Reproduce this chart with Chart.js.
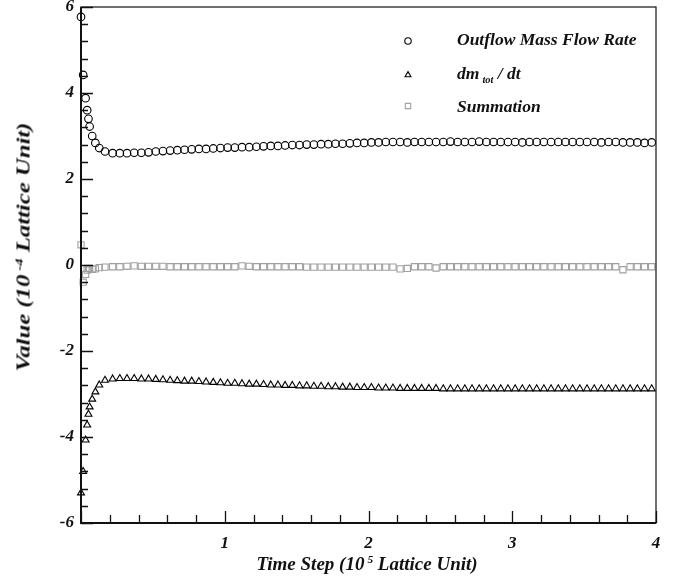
<!DOCTYPE html>
<html>
<head>
<meta charset="utf-8">
<script src="https://cdn.jsdelivr.net/npm/chart.js@4"></script>
<style>
  html, body { margin: 0; padding: 0; background: #fff; }
  #wrap { position: relative; width: 679px; height: 582px; overflow: hidden; }
  #c { position: absolute; left: 0; top: 0; }
  .t { position: absolute; white-space: nowrap; line-height: 1; color: #111;
       font-family: "Liberation Serif", "Times New Roman", serif; font-weight: bold; font-style: italic; }
  .t sup { font-size: 60%; vertical-align: 0.6em; margin-left: 3px; line-height: 0; }
  .t sub { font-size: 60%; vertical-align: -0.35em; margin-left: 3px; line-height: 0; }
</style>
</head>
<body>
<div id="wrap">
  <canvas id="c" width="679" height="582"></canvas>
  <div class="t" id="xt" style="font-size:19px; left:367px; top:563px; transform:translate(-50%,-50%);">Time Step (10<sup>5</sup> Lattice Unit)</div>
  <div class="t" id="yt" style="font-size:19px; left:23px; top:247px; transform:translate(-50%,-50%) rotate(-90deg) scaleX(1.3);">Value (10<sup>-4</sup> Lattice Unit)</div>
  <div class="t" style="font-size:17.5px; left:457px; top:40px; transform:translateY(-50%);">Outflow Mass Flow Rate</div>
  <div class="t" style="font-size:17.5px; left:457px; top:74px; transform:translateY(-50%);">dm<sub>tot</sub> / dt</div>
  <div class="t" style="font-size:17.5px; left:457px; top:107px; transform:translateY(-50%);">Summation</div>
</div>
<script>
// ---- data (time step in 1e5 lattice units, values in 1e-4 lattice units) ----
const timeSteps = [
  0, 0.015, 0.032, 0.043, 0.052, 0.06, 0.078, 0.1, 0.127, 0.167,
  0.22,0.27,0.32,0.37,0.42,0.47,0.52,0.57,0.62,0.67,
  0.72,0.77,0.82,0.87,0.92,0.97,1.02,1.07,1.12,1.17,
  1.22,1.27,1.32,1.37,1.42,1.47,1.52,1.57,1.62,1.67,
  1.72,1.77,1.82,1.87,1.92,1.97,2.02,2.07,2.12,2.17,
  2.22,2.27,2.32,2.37,2.42,2.47,2.52,2.57,2.62,2.67,
  2.72,2.77,2.82,2.87,2.92,2.97,3.02,3.07,3.12,3.17,
  3.22,3.27,3.32,3.37,3.42,3.47,3.52,3.57,3.62,3.67,
  3.72,3.77,3.82,3.87,3.92,3.97
];
const outflowRate = [
  5.77, 4.42, 3.88, 3.6, 3.4, 3.22, 3.0, 2.84, 2.72, 2.64,
  2.60,2.60,2.60,2.61,2.61,2.62,2.64,2.65,2.66,2.67,
  2.68,2.69,2.70,2.70,2.71,2.72,2.73,2.73,2.74,2.74,
  2.75,2.76,2.77,2.77,2.78,2.79,2.79,2.80,2.80,2.81,
  2.81,2.82,2.82,2.83,2.84,2.84,2.85,2.85,2.86,2.86,
  2.86,2.85,2.86,2.86,2.86,2.86,2.86,2.87,2.86,2.86,
  2.86,2.87,2.86,2.86,2.86,2.86,2.86,2.85,2.86,2.86,
  2.86,2.86,2.86,2.86,2.86,2.86,2.86,2.86,2.85,2.86,
  2.86,2.85,2.85,2.85,2.84,2.85
];
const dmTotDt = [
  -5.3, -4.8, -4.07, -3.72, -3.47, -3.3, -3.12, -2.95, -2.79, -2.68,
  -2.65,-2.64,-2.64,-2.64,-2.65,-2.65,-2.66,-2.67,-2.68,-2.69,
  -2.70,-2.70,-2.71,-2.72,-2.73,-2.74,-2.75,-2.75,-2.76,-2.77,
  -2.77,-2.78,-2.79,-2.79,-2.80,-2.80,-2.81,-2.81,-2.82,-2.82,
  -2.83,-2.83,-2.84,-2.84,-2.85,-2.85,-2.85,-2.86,-2.86,-2.86,
  -2.87,-2.87,-2.87,-2.87,-2.87,-2.87,-2.88,-2.88,-2.88,-2.88,
  -2.88,-2.88,-2.88,-2.88,-2.88,-2.88,-2.88,-2.88,-2.88,-2.88,
  -2.88,-2.88,-2.88,-2.88,-2.88,-2.88,-2.88,-2.88,-2.88,-2.88,
  -2.88,-2.88,-2.88,-2.88,-2.88,-2.88
];
const summation = [
  0.47, -0.4, -0.22, -0.12, -0.08, -0.09, -0.1, -0.09, -0.06, -0.05,
  -0.04,-0.04,-0.03,-0.02,-0.03,-0.03,-0.03,-0.03,-0.04,-0.04,
  -0.04,-0.04,-0.04,-0.04,-0.04,-0.04,-0.04,-0.04,-0.02,-0.03,
  -0.04,-0.04,-0.04,-0.04,-0.04,-0.04,-0.04,-0.05,-0.05,-0.05,
  -0.05,-0.05,-0.05,-0.05,-0.05,-0.05,-0.05,-0.05,-0.05,-0.05,
  -0.09,-0.08,-0.04,-0.04,-0.04,-0.07,-0.04,-0.04,-0.04,-0.04,
  -0.04,-0.04,-0.04,-0.04,-0.04,-0.04,-0.04,-0.04,-0.04,-0.04,
  -0.04,-0.04,-0.04,-0.04,-0.04,-0.04,-0.04,-0.04,-0.04,-0.04,
  -0.04,-0.11,-0.04,-0.04,-0.04,-0.04
];
const seriesNames = ["Outflow Mass Flow Rate", "dm_tot / dt", "Summation"];
const xTickValues = [1, 2, 3, 4];
const yTickValues = [-6, -4, -2, 0, 2, 4, 6];

const toXY = arr => arr.map((v, i) => ({ x: timeSteps[i], y: v }));

const styles = [
  { pointStyle: 'circle',   r: 3.8, color: '#000' },
  { pointStyle: 'triangle', r: 4.0, color: '#000' },
  { pointStyle: 'rect',     r: 4.4, color: '#a0a0a0' }
];
const seriesData = [outflowRate, dmTotDt, summation];

const tickFont = { family: 'Liberation Serif', size: 17, style: 'italic', weight: 'bold' };

const legendMarks = {
  id: 'legendMarks',
  afterDraw(chart) {
    const { ctx } = chart;
    const mk = [[408, 41], [408, 75], [408, 106]];
    chart.data.datasets.forEach((ds, i) => {
      ctx.save();
      ctx.strokeStyle = ds.pointBorderColor;
      ctx.fillStyle = 'rgba(0,0,0,0)';
      ctx.lineWidth = ds.pointBorderWidth;
      Chart.helpers.drawPoint(ctx, { pointStyle: ds.pointStyle, radius: ds.pointRadius * 0.85, rotation: 0, borderWidth: ds.pointBorderWidth }, mk[i][0], mk[i][1]);
      ctx.restore();
    });
  }
};

const frame = {
  id: 'frame',
  afterDraw(chart) {
    const { ctx, chartArea: a, scales: { x, y } } = chart;
    ctx.save();
    ctx.strokeStyle = '#111';
    ctx.lineWidth = 1.2;
    ctx.strokeRect(a.left, a.top, a.right - a.left, a.bottom - a.top);
    ctx.lineWidth = 2;
    ctx.beginPath();
    ctx.moveTo(a.left, a.top); ctx.lineTo(a.left, a.bottom); ctx.lineTo(a.right, a.bottom);
    ctx.stroke();
    ctx.lineWidth = 1.3;
    ctx.beginPath();
    for (let i = 0; i <= 30; i++) {
      const py = Math.round(y.getPixelForValue(-6 + i * 0.4)) + 0.5;
      const len = (i % 5 === 0) ? 12 : 7;
      ctx.moveTo(a.left, py); ctx.lineTo(a.left + len, py);
    }
    for (let i = 0; i <= 20; i++) {
      const px = Math.round(x.getPixelForValue(i * 0.2)) + 0.5;
      const len = (i % 5 === 0) ? 12 : 8;
      ctx.moveTo(px, a.bottom); ctx.lineTo(px, a.bottom - len);
    }
    ctx.stroke();
    ctx.restore();
  }
};

new Chart(document.getElementById('c'), {
  type: 'scatter',
  data: {
    datasets: seriesData.map((arr, i) => ({
      label: seriesNames[i],
      data: toXY(arr),
      showLine: false,
      pointStyle: styles[i].pointStyle,
      pointRadius: styles[i].r,
      pointBorderWidth: 1.1,
      pointBorderColor: styles[i].color,
      pointBackgroundColor: 'rgba(0,0,0,0)',
      clip: false
    }))
  },
  options: {
    responsive: false,
    animation: false,
    events: [],
    layout: { padding: { top: 7, right: 23, left: 0, bottom: 0 } },
    plugins: { legend: { display: false }, tooltip: { enabled: false } },
    scales: {
      x: {
        type: 'linear', min: 0, max: 4,
        grid: { display: false, drawTicks: false },
        border: { display: false },
        afterFit: s => { s.height = 59; s.paddingLeft = 0; s.paddingRight = 0; },
        afterBuildTicks: s => { s.ticks = xTickValues.map(v => ({ value: v })); },
        ticks: { font: tickFont, color: '#111', padding: 10, maxRotation: 0, autoSkip: false }
      },
      y: {
        type: 'linear', min: -6, max: 6,
        grid: { display: false, drawTicks: false },
        border: { display: false },
        afterFit: s => { s.width = 81; s.paddingTop = 0; s.paddingBottom = 0; },
        afterBuildTicks: s => { s.ticks = yTickValues.map(v => ({ value: v })); },
        ticks: { font: tickFont, color: '#111', padding: 7, autoSkip: false }
      }
    }
  },
  plugins: [legendMarks, frame]
});
</script>
</body>
</html>
